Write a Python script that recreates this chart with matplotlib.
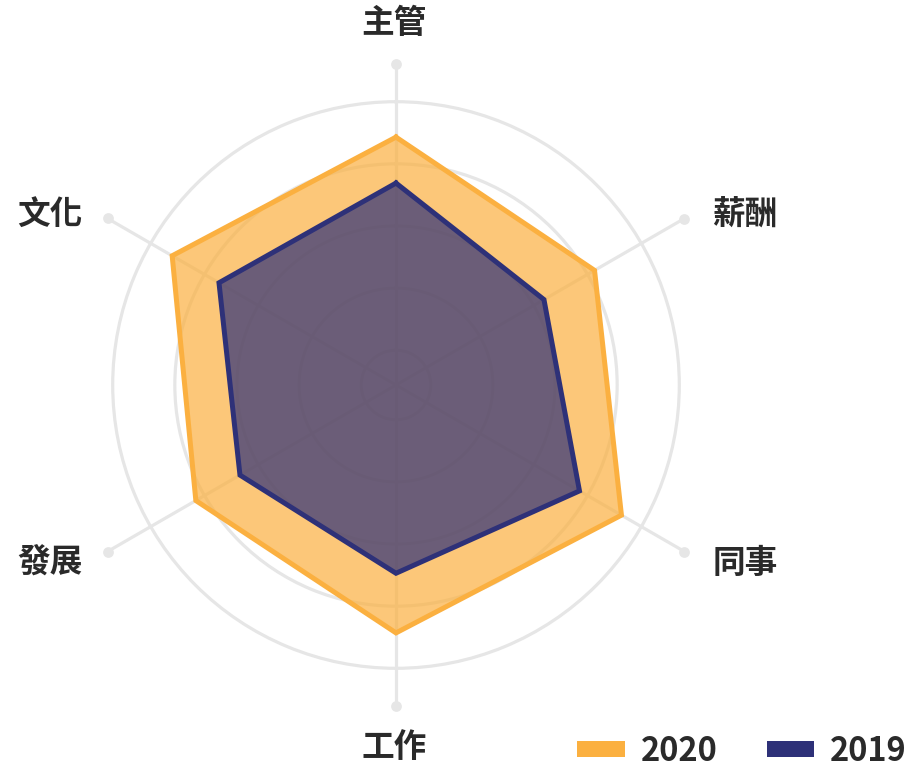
import numpy as np
import matplotlib
matplotlib.use("Agg")
import matplotlib.pyplot as plt
from matplotlib.patches import Patch

plt.rcParams['font.family'] = ['Noto Sans CJK TC', 'DejaVu Sans']

categories = ["主管", "薪酬", "同事", "工作", "發展", "文化"]
scores_2020 = [4.43, 4.13, 4.63, 4.43, 4.16, 4.60]
scores_2019 = [3.69, 3.19, 3.85, 3.47, 3.34, 3.73]
series_names = ["2020", "2019"]

ORANGE = "#FBB040"
NAVY = "#2E3178"
GRID = "#E6E6E6"
TEXT = "#2A2A2A"

W, H = 911, 768
fig = plt.figure(figsize=(W / 100, H / 100), dpi=100)

cx, cy, R = 396, 385, 333
r_min, r_max = 0.44, 5.8
ax = fig.add_axes([(cx - R) / W, (H - cy - R) / H, 2 * R / W, 2 * R / H], projection="polar")
ax.set_theta_zero_location("N")
ax.set_theta_direction(-1)

n = len(categories)
angles = np.arange(n) * 2 * np.pi / n
ax.set_ylim(r_min, r_max)
ax.set_yticks([1, 2, 3, 4, 5])
ax.set_xticks([])
ax.set_yticklabels([])
ax.yaxis.grid(True, color=GRID, linewidth=2.3)
ax.xaxis.grid(False)
ax.spines["polar"].set_visible(False)
ax.set_facecolor("none")
ax.set_axisbelow(True)

# spokes: vertical ones a little shorter than the diagonal ones
spoke_len = [5.6, 5.8, 5.8, 5.6, 5.8, 5.8]
for a, L in zip(angles, spoke_len):
    ax.plot([a, a], [r_min, L], color=GRID, linewidth=2.3, zorder=1, clip_on=False)
ax.scatter(angles, spoke_len, s=60, color=GRID, zorder=1, clip_on=False, linewidths=0)

def closed(vals):
    return np.append(angles, angles[0]), np.append(vals, vals[0])

for vals, color in [(scores_2020, ORANGE), (scores_2019, NAVY)]:
    th, rr = closed(np.array(vals))
    ax.fill(th, rr, color=color, alpha=0.7, zorder=2, linewidth=0)
    ax.plot(th, rr, color=color, linewidth=3.6, zorder=3, solid_joinstyle="miter")

# category labels around the chart
label_pos = {
    "主管": (394, 24),
    "薪酬": (745, 214),
    "同事": (745, 563),
    "工作": (394, 748),
    "發展": (50, 563),
    "文化": (50, 214),
}
for name in categories:
    x, y = label_pos[name]
    fig.text(x / W, 1 - y / H, name, ha="center", va="center",
             fontsize=23.5, color=TEXT, fontweight="bold")

handles = [Patch(facecolor=ORANGE, edgecolor="none"), Patch(facecolor=NAVY, edgecolor="none")]
leg = fig.legend(handles, series_names, loc="lower right", bbox_to_anchor=(907 / W, 0),
                 ncol=2, frameon=False, borderpad=0, borderaxespad=0,
                 prop={"size": 23.5, "weight": "bold"},
                 handlelength=1.45, handleheight=0.38,
                 handletextpad=0.5, columnspacing=1.5, labelcolor=TEXT)

fig.savefig("out.png", dpi=100, facecolor="white")
